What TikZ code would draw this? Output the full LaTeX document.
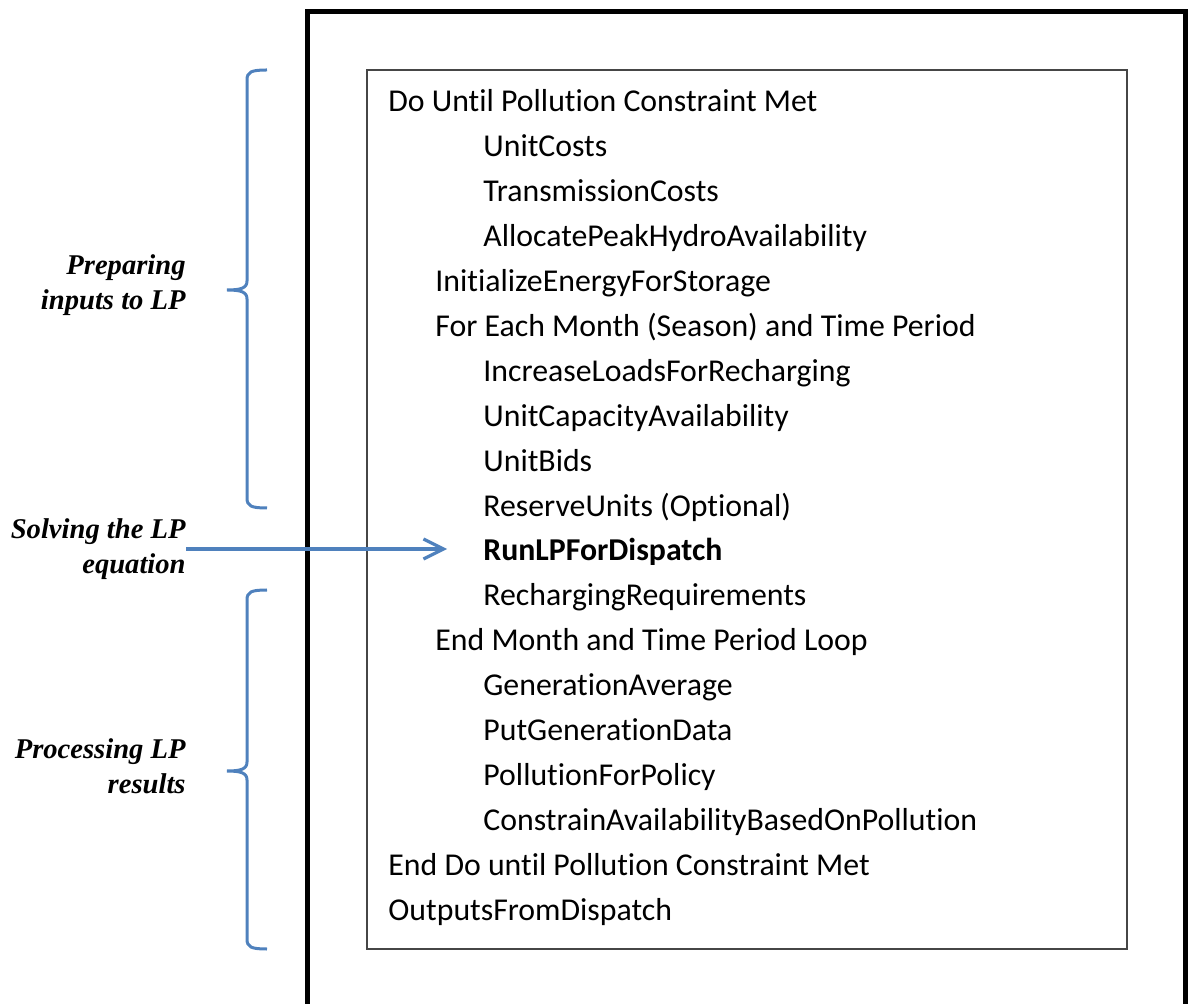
\documentclass[tikz,border=0pt]{standalone}
\usepackage{fontspec}
\usepackage{xcolor}
\usepackage{tikz}
\usetikzlibrary{arrows.meta}
\setmainfont{Carlito}[Ligatures=NoCommon]
\newfontfamily\notefont{Liberation Serif}
\definecolor{wordblue}{RGB}{79, 129, 189}
\definecolor{boxgray}{RGB}{70, 70, 70}

\begin{document}
\begin{tikzpicture}[x=0.5pt, y=-0.5pt,
  row/.style={anchor=base west, inner sep=0pt, font=\fontsize{15.9}{19}\selectfont},
  note/.style={anchor=east, inner sep=0pt, align=right, font=\notefont\bfseries\itshape\fontsize{14.3}{17.5}\selectfont},
  brace/.style={wordblue, line width=1.5pt},
  pointer/.style={wordblue, line width=1.6pt, -{Straight Barb[length=10pt, width=10pt]}}]
\useasboundingbox (0,0) rectangle (1188,1004);

% outer frame, open at the bottom
\draw[line width=2.5pt] (307,1004) -- (307,12) -- (1185,12) -- (1185,1004);
\draw[boxgray, line width=0.75pt] (367,70) rectangle (1127,949);

\node[row] (r0) at (388,112) {Do Until Pollution Constraint Met};
\node[row] (r1) at (483,156.9) {UnitCosts};
\node[row] (r2) at (483,201.8) {TransmissionCosts};
\node[row] (r3) at (483,246.7) {AllocatePeakHydroAvailability};
\node[row] (r4) at (435,291.6) {InitializeEnergyForStorage};
\node[row] (r5) at (435,336.5) {For Each Month (Season) and Time Period};
\node[row] (r6) at (483,381.4) {IncreaseLoadsForRecharging};
\node[row] (r7) at (483,426.3) {UnitCapacityAvailability};
\node[row] (r8) at (483,471.2) {UnitBids};
\node[row] (r9) at (483,516.1) {ReserveUnits (Optional)};
\node[row] (runlp) at (483,561) {\bfseries RunLPForDispatch};
\node[row] (r11) at (483,605.9) {RechargingRequirements};
\node[row] (r12) at (435,650.8) {End Month and Time Period Loop};
\node[row] (r13) at (483,695.7) {GenerationAverage};
\node[row] (r14) at (483,740.6) {PutGenerationData};
\node[row] (r15) at (483,785.5) {PollutionForPolicy};
\node[row] (r16) at (483,830.4) {ConstrainAvailabilityBasedOnPollution};
\node[row] (r17) at (388,875.3) {End Do until Pollution Constraint Met};
\node[row] (r18) at (388,920.2) {OutputsFromDispatch};

% labels on the left
\node[note] (prep) at (186,285) {Preparing\\inputs to LP};
\node[note] (solve) at (186,549) {Solving the LP\\equation};
\node[note] (proc) at (186,766) {Processing LP\\results};

% braces
\draw[brace] (267,70) .. controls (251,70) and (247,72) .. (247,80) -- (247,281)
  .. controls (247,288) and (241,290) .. (227,290)
  .. controls (241,290) and (247,292) .. (247,299) -- (247,498)
  .. controls (247,506) and (251,508) .. (267,508);
\draw[brace] (267,590) .. controls (251,590) and (247,592) .. (247,600) -- (247,762)
  .. controls (247,769) and (241,771) .. (227,771)
  .. controls (241,771) and (247,773) .. (247,780) -- (247,939)
  .. controls (247,947) and (251,949) .. (267,949);

\draw[pointer, shorten >=18pt] (solve.east) -- (solve.east -| runlp.west);
\end{tikzpicture}
\end{document}
